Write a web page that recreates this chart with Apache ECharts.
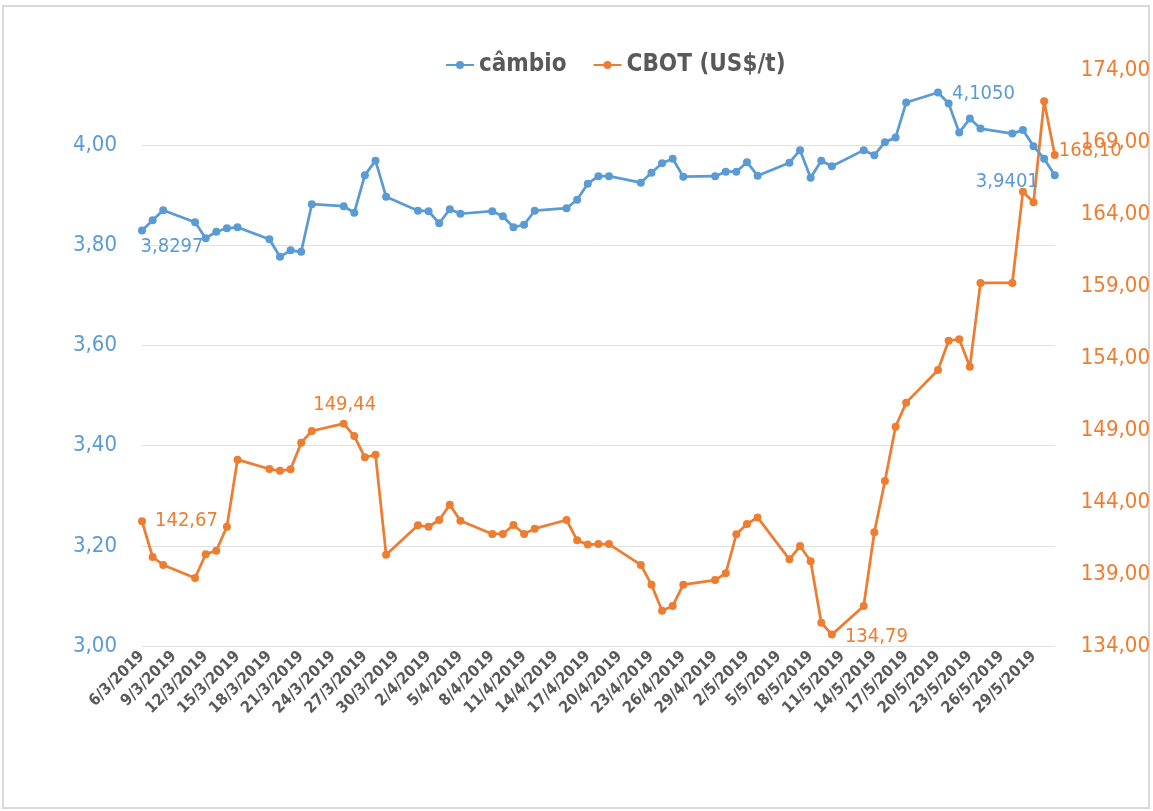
<!DOCTYPE html>
<html>
<head>
<meta charset="utf-8">
<script src="https://cdn.jsdelivr.net/npm/echarts@6/dist/echarts.min.js"></script>
<style>
  html, body { margin: 0; padding: 0; background: #fff; }
  .frame {
    position: absolute;
    left: 2px;
    top: 5px;
    width: 1148px;
    height: 804px;
    box-sizing: border-box;
    border: 2px solid #d9d9d9;
  }
  #chart {
    position: absolute;
    left: 0;
    top: 0;
    width: 1153px;
    height: 811px;
  }
</style>
</head>
<body>
<div class="frame"></div>
<div id="chart"></div>
<script>
// datas (dias úteis de 6/3/2019 a 31/5/2019)
const dates = [
  '6/3/2019', '7/3/2019', '8/3/2019', '11/3/2019', '12/3/2019', '13/3/2019', '14/3/2019', '15/3/2019',
  '18/3/2019', '19/3/2019', '20/3/2019', '21/3/2019', '22/3/2019', '25/3/2019', '26/3/2019', '27/3/2019',
  '28/3/2019', '29/3/2019',
  '1/4/2019', '2/4/2019', '3/4/2019', '4/4/2019', '5/4/2019', '8/4/2019', '9/4/2019', '10/4/2019',
  '11/4/2019', '12/4/2019', '15/4/2019', '16/4/2019', '17/4/2019', '18/4/2019', '19/4/2019', '22/4/2019',
  '23/4/2019', '24/4/2019', '25/4/2019', '26/4/2019', '29/4/2019', '30/4/2019',
  '1/5/2019', '2/5/2019', '3/5/2019', '6/5/2019', '7/5/2019', '8/5/2019', '9/5/2019', '10/5/2019',
  '13/5/2019', '14/5/2019', '15/5/2019', '16/5/2019', '17/5/2019', '20/5/2019', '21/5/2019', '22/5/2019',
  '23/5/2019', '24/5/2019', '27/5/2019', '28/5/2019', '29/5/2019', '30/5/2019', '31/5/2019'
]

// câmbio (R$/US$)
const cambio = [
  3.8297, 3.850, 3.870, 3.846, 3.814, 3.827, 3.834, 3.836,
  3.812, 3.777, 3.790, 3.787, 3.882, 3.878, 3.865, 3.940,
  3.969, 3.897,
  3.869, 3.868, 3.844, 3.872, 3.863, 3.868, 3.858, 3.836,
  3.841, 3.869, 3.874, 3.891, 3.923, 3.938, 3.938, 3.925,
  3.945, 3.964, 3.973, 3.937, 3.938, 3.947,
  3.947, 3.966, 3.939, 3.965, 3.990, 3.935, 3.969, 3.958,
  3.990, 3.980, 4.006, 4.015, 4.085, 4.1050, 4.083, 4.025,
  4.053, 4.033, 4.023, 4.030, 3.998, 3.973, 3.9401
]

// CBOT (US$/t)
const cbot = [
  142.67, 140.18, 139.63, 138.72, 140.37, 140.62, 142.28, 146.94,
  146.29, 146.17, 146.27, 148.12, 148.93, 149.44, 148.58, 147.10,
  147.28, 140.34,
  142.38, 142.28, 142.75, 143.81, 142.70, 141.78, 141.78, 142.40,
  141.78, 142.15, 142.75, 141.34, 141.04, 141.08, 141.08, 139.63,
  138.26, 136.45, 136.78, 138.26, 138.58, 139.05,
  141.76, 142.47, 142.93, 140.02, 140.94, 139.88, 135.62, 134.79,
  136.78, 141.90, 145.46, 149.23, 150.90, 153.17, 155.20, 155.30,
  153.40, 159.21, 159.21, 165.55, 164.81, 171.83, 168.10
]

// pontos com rótulo
const cambioLabeled = ['6/3/2019', '20/5/2019', '31/5/2019']
const cbotLabeled = ['6/3/2019', '25/3/2019', '10/5/2019', '31/5/2019']

const BLUE = '#5b9bd5'
const ORANGE = '#ed7d31'
const GREY = '#595959'
const FONT = '"Liberation Sans Narrow", "DejaVu Sans Condensed", "Roboto Condensed", sans-serif'

const START = new Date(2019, 2, 6)
const DAY = 86400000

// converte 'd/m/aaaa' em nº de dias desde 6/3/2019
const toDay = (s) => {
  const [d, m, y] = s.split('/').map(Number)
  return Math.round((new Date(y, m - 1, d) - START) / DAY)
}

const fmtComma = (v) => v.toFixed(2).replace('.', ',')
const fmt4 = (v) => v.toFixed(4).replace('.', ',')

// posição dos rótulos de dados
const cambioLabelStyle = {
  '6/3/2019': { position: 'bottom', offset: [30, -3] },
  '20/5/2019': { position: 'right', offset: [5, 1] },
  '31/5/2019': { position: 'left', offset: [-7, 7] }
}
const cbotLabelStyle = {
  '6/3/2019': { position: 'right', offset: [4, 0] },
  '25/3/2019': { position: 'top', offset: [1, 0] },
  '10/5/2019': { position: 'right', offset: [4, 2] },
  '31/5/2019': { position: 'right', offset: [-5, -4] }
}

const buildData = (values, labeled, styles, color, fmt) =>
  dates.map((d, i) => {
    const item = { value: [toDay(d), values[i]] }
    if (labeled.includes(d)) {
      item.label = {
        show: true,
        ...styles[d],
        color: color,
        fontFamily: FONT,
        fontSize: 20,
        formatter: () => fmt(values[i])
      }
    }
    return item
  })

const chart = echarts.init(document.getElementById('chart'))

const option = {
  animation: false,
  textStyle: { fontFamily: FONT },
  legend: {
    top: 48,
    left: 440,
    itemWidth: 28,
    itemHeight: 10,
    itemGap: 26,
    textStyle: {
      color: GREY,
      fontSize: 24,
      fontWeight: 'bold',
      fontFamily: FONT
    },
    data: ['câmbio', 'CBOT (US$/t)']
  },
  grid: {
    left: 142,
    right: 94,
    top: 70,
    bottom: 165
  },
  xAxis: {
    type: 'value',
    min: 0,
    max: toDay('31/5/2019'),
    interval: 3,
    axisLine: { show: false },
    axisTick: { show: false },
    splitLine: { show: false },
    axisLabel: {
      rotate: 45,
      margin: 8,
      color: GREY,
      fontSize: 16,
      fontWeight: 'bold',
      fontFamily: FONT,
      showMaxLabel: false,
      formatter: (v) => {
        if (v % 3 !== 0) return ''
        const d = new Date(START.getTime() + v * DAY)
        return d.getDate() + '/' + (d.getMonth() + 1) + '/' + d.getFullYear()
      }
    }
  },
  yAxis: [
    {
      type: 'value',
      min: 3,
      max: 4.15,
      interval: 0.2,
      axisLine: { show: false },
      axisTick: { show: false },
      splitLine: {
        show: true,
        showMaxLine: false,
        lineStyle: { color: '#e0e0e0', width: 1 }
      },
      axisLabel: {
        margin: 25,
        color: BLUE,
        fontSize: 22,
        fontFamily: FONT,
        showMaxLabel: false,
        formatter: (v) => (Math.abs(v - 4.15) < 1e-6 ? '' : fmtComma(v))
      }
    },
    {
      type: 'value',
      min: 134,
      max: 174,
      interval: 5,
      axisLine: { show: false },
      axisTick: { show: false },
      splitLine: { show: false },
      axisLabel: {
        margin: 26,
        color: ORANGE,
        fontSize: 22,
        fontFamily: FONT,
        formatter: (v) => fmtComma(v)
      }
    }
  ],
  series: [
    {
      name: 'câmbio',
      type: 'line',
      yAxisIndex: 0,
      symbol: 'circle',
      symbolSize: 8,
      color: BLUE,
      lineStyle: { width: 2.75, color: BLUE },
      itemStyle: { color: BLUE },
      data: buildData(cambio, cambioLabeled, cambioLabelStyle, BLUE, fmt4),
      z: 3
    },
    {
      name: 'CBOT (US$/t)',
      type: 'line',
      yAxisIndex: 1,
      symbol: 'circle',
      symbolSize: 8,
      color: ORANGE,
      lineStyle: { width: 2.75, color: ORANGE },
      itemStyle: { color: ORANGE },
      data: buildData(cbot, cbotLabeled, cbotLabelStyle, ORANGE, fmtComma),
      z: 2
    }
  ]
}

chart.setOption(option)
</script>
</body>
</html>
